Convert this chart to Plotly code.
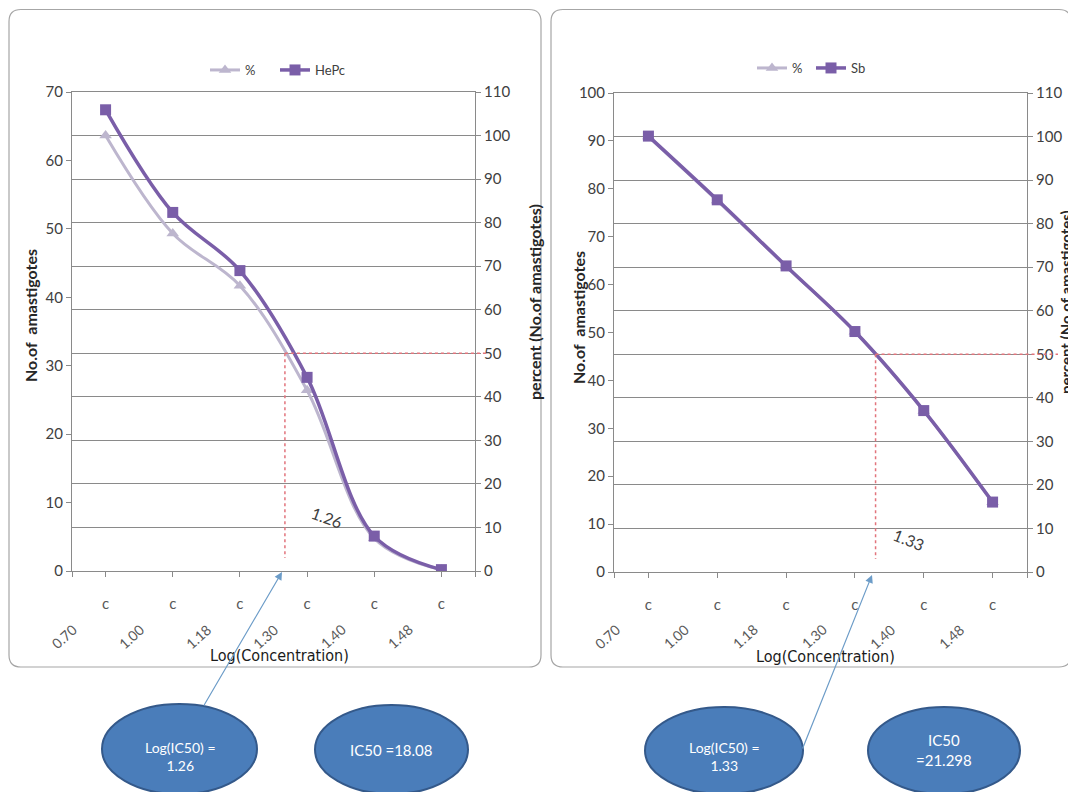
import plotly.graph_objects as go

# ---------------- data ----------------
categories = [0, 1, 2, 3, 4, 5]
tick_text = ["c", "c", "c", "c", "c", "c"]
conc_labels = ["0.70", "1.00", "1.18", "1.30", "1.40", "1.48"]

hepc_count = [67.4, 52.4, 43.9, 28.3, 5.1, 0.2]
hepc_pct = [100, 77.5, 65.5, 41.5, 7.5, 0.3]

sb_count = [91.0, 77.7, 63.9, 50.2, 33.7, 14.6]
sb_pct = [100, 85.3, 70.2, 55.2, 37.0, 16.0]

ic50_left_pos = 2.67   # category-axis position where % = 50
ic50_right_pos = 3.30
ic50_left_label = "1.26"
ic50_right_label = "1.33"

W, H = 1076, 792
OFF = 8  # page body margin
FONT = "Lato, Liberation Sans, sans-serif"
COND = "DejaVu Sans Condensed, Lato, sans-serif"
PURPLE = "#7A5EA8"
LAV = "#BDB6CE"
GRID = "#8A8A8A"
TXT = "#404040"
RED = "#E2747C"
BLUE_FILL = "#4A7DBA"
BLUE_LINE = "#34598A"
ARROW = "#6C9CC8"

def px(x):
    return (x - OFF) / W

def py(y):
    return 1 - (y - OFF) / H

L_DOM_X = [px(72), px(475)]
L_DOM_Y = [py(571), py(92)]
R_DOM_X = [px(614), px(1027)]
R_DOM_Y = [py(572), py(93)]

fig = go.Figure()

fig.add_trace(go.Scatter(x=categories, y=hepc_pct, name="%", xaxis="x", yaxis="y",
                         mode="lines+markers", line=dict(color=LAV, width=3, shape="spline"),
                         marker=dict(symbol="triangle-up", size=11, color=LAV), legend="legend"))
fig.add_trace(go.Scatter(x=categories, y=hepc_count, name="HePc", xaxis="x", yaxis="y2",
                         mode="lines+markers", line=dict(color=PURPLE, width=3.5, shape="spline"),
                         marker=dict(symbol="square", size=11, color=PURPLE), legend="legend"))
fig.add_trace(go.Scatter(x=categories, y=sb_pct, name="%", xaxis="x2", yaxis="y3",
                         mode="lines+markers", line=dict(color=LAV, width=3, shape="spline"),
                         marker=dict(symbol="triangle-up", size=11, color=LAV), legend="legend2"))
fig.add_trace(go.Scatter(x=categories, y=sb_count, name="Sb", xaxis="x2", yaxis="y4",
                         mode="lines+markers", line=dict(color=PURPLE, width=3.5, shape="spline"),
                         marker=dict(symbol="square", size=11, color=PURPLE), legend="legend2"))

tickfont = dict(family=FONT, size=15, color=TXT)

def xaxis_def(domain, anchor):
    return dict(domain=domain, anchor=anchor, range=[-0.5, 5.5], automargin=False,
                tickvals=[-0.5] + categories + [5.5], ticktext=[""] + tick_text + [""],
                ticks="outside", ticklen=5, tickcolor=GRID, showline=True, linecolor=GRID,
                mirror=True, showgrid=False, zeroline=False,
                tickfont=dict(family=FONT, size=15, color="#595959"), ticklabelstandoff=14)

def pct_axis(domain, anchor):
    return dict(domain=domain, anchor=anchor, side="right", range=[0, 110], automargin=False,
                tickvals=list(range(0, 111, 10)), ticks="outside", ticklen=5, tickcolor=GRID,
                showline=True, linecolor=GRID, showgrid=True, gridcolor=GRID, gridwidth=1.2,
                zeroline=False, tickfont=tickfont)

def count_axis(overlay, anchor, top):
    return dict(overlaying=overlay, anchor=anchor, side="left", range=[0, top], automargin=False,
                tickvals=list(range(0, top + 1, 10)), ticks="outside", ticklen=5, tickcolor=GRID,
                showline=True, linecolor=GRID, showgrid=False, zeroline=False, tickfont=tickfont)

fig.update_layout(
    width=W, height=H, autosize=False,
    margin=dict(l=0, r=0, t=0, b=0, autoexpand=False),
    paper_bgcolor="white", plot_bgcolor="rgba(0,0,0,0)",
    xaxis=xaxis_def(L_DOM_X, "y"),
    yaxis=pct_axis(L_DOM_Y, "x"),
    yaxis2=count_axis("y", "x", 70),
    xaxis2=xaxis_def(R_DOM_X, "y3"),
    yaxis3=pct_axis(R_DOM_Y, "x2"),
    yaxis4=count_axis("y3", "x2", 100),
    legend=dict(orientation="h", x=px(205), y=py(70), xanchor="left", yanchor="middle",
                font=dict(family=FONT, size=13, color=TXT), bgcolor="rgba(0,0,0,0)",
                entrywidth=25, entrywidthmode="pixels", itemwidth=30),
    legend2=dict(orientation="h", x=px(752), y=py(68), xanchor="left", yanchor="middle",
                 font=dict(family=FONT, size=13, color=TXT), bgcolor="rgba(0,0,0,0)",
                 entrywidth=14, entrywidthmode="pixels", itemwidth=30),
    showlegend=True,
)

shapes = []
def rrect(x0, y0, x1, y1, r=12):
    X0, X1 = px(x0), px(x1)
    Y0, Y1 = py(y0), py(y1)
    rx, ry = r / W, r / H
    return (f"M {X0+rx},{Y0} L {X1-rx},{Y0} Q {X1},{Y0} {X1},{Y0-ry} "
            f"L {X1},{Y1+ry} Q {X1},{Y1} {X1-rx},{Y1} L {X0+rx},{Y1} "
            f"Q {X0},{Y1} {X0},{Y1+ry} L {X0},{Y0-ry} Q {X0},{Y0} {X0+rx},{Y0} Z")

for (a, b, c, d) in [(9, 9.5, 541, 667), (551, 9.5, 1071, 667)]:
    shapes.append(dict(type="path", path=rrect(a, b, c, d), xref="paper", yref="paper",
                       line=dict(color="#A6A6A6", width=1.2), layer="below"))

def to_paper(pos, dom):
    return dom[0] + (pos + 0.5) / 6 * (dom[1] - dom[0])

shapes.append(dict(type="line", xref="paper", yref="y", x0=to_paper(ic50_left_pos, L_DOM_X),
                   x1=px(488), y0=50, y1=50, line=dict(color=RED, width=1.5, dash="dot")))
shapes.append(dict(type="line", xref="x", yref="y", x0=ic50_left_pos, x1=ic50_left_pos,
                   y0=50, y1=3, line=dict(color=RED, width=1.5, dash="dot")))
shapes.append(dict(type="line", xref="paper", yref="y3", x0=to_paper(ic50_right_pos, R_DOM_X),
                   x1=px(1058), y0=50, y1=50, line=dict(color=RED, width=1.5, dash="dot")))
shapes.append(dict(type="line", xref="x2", yref="y3", x0=ic50_right_pos, x1=ic50_right_pos,
                   y0=50, y1=3, line=dict(color=RED, width=1.5, dash="dot")))

ellipses = [(102, 704, 257, 794), (315, 705, 468, 794), (645, 707, 803, 794), (868, 707, 1020, 794)]
for (a, b, c, d) in ellipses:
    shapes.append(dict(type="circle", xref="paper", yref="paper", x0=px(a), x1=px(c),
                       y0=py(d), y1=py(b), fillcolor=BLUE_FILL, line=dict(color=BLUE_LINE, width=2)))

fig.update_layout(shapes=shapes)

def pann(x, y, text, font, angle=0):
    return dict(x=px(x), y=py(y), xref="paper", yref="paper", text=text, showarrow=False,
                textangle=angle, xanchor="center", yanchor="middle", font=font)

ann = []
for i, lab in enumerate(conc_labels):
    for dom, off in ((L_DOM_X, -0.62), (R_DOM_X, -0.60)):
        ann.append(dict(x=to_paper(categories[i] + off, dom), y=py(636), xref="paper", yref="paper",
                        text=lab, showarrow=False, textangle=-42, xanchor="center", yanchor="middle",
                        font=dict(family=FONT, size=14, color="#595959")))

title_font = dict(family=FONT, size=16, color="#262626")
xt_font = dict(family=COND, size=16, color="#1a1a1a")
ann += [
    pann(31, 316, "<b>No.of\u00a0 amastigotes</b>", title_font, -90),
    pann(534, 302, "<b>percent (No.of amastigotes)</b>", title_font, -90),
    pann(578, 318, "<b>No.of\u00a0 amastigotes</b>", title_font, -90),
    pann(1066, 302, "<b>percent (No.of amastigotes)</b>", dict(family=FONT, size=15, color="#262626"), -90),
    pann(279, 655, "Log(Concentration)", xt_font),
    pann(825, 656, "Log(Concentration)", xt_font),
    dict(x=ic50_left_pos + 0.63, y=12.2, xref="x", yref="y", text=ic50_left_label,
         showarrow=False, textangle=20, font=dict(family=FONT, size=16, color=TXT)),
    dict(x=ic50_right_pos + 0.48, y=7.4, xref="x2", yref="y3", text=ic50_right_label,
         showarrow=False, textangle=22, font=dict(family=FONT, size=16, color=TXT)),
    dict(x=px(282), y=py(572), xref="paper", yref="paper", ax=-79, ay=135, text="",
         showarrow=True, arrowhead=2, arrowsize=1.3, arrowwidth=1.2, arrowcolor=ARROW),
    dict(x=px(872), y=py(575), xref="paper", yref="paper", ax=-70, ay=175, text="",
         showarrow=True, arrowhead=2, arrowsize=1.3, arrowwidth=1.2, arrowcolor=ARROW),
]
ell_font = dict(family=FONT, size=14, color="white")
ann += [
    pann(180, 756, "Log(IC50) =<br>1.26", ell_font),
    pann(391, 750, "IC50 =18.08", dict(family=FONT, size=15, color="white")),
    pann(724, 756, "Log(IC50) =<br>1.33", ell_font),
    pann(944, 750, "IC50<br>=21.298", dict(family=FONT, size=15, color="white")),
]
fig.update_layout(annotations=ann)

fig.write_html("out.html")
